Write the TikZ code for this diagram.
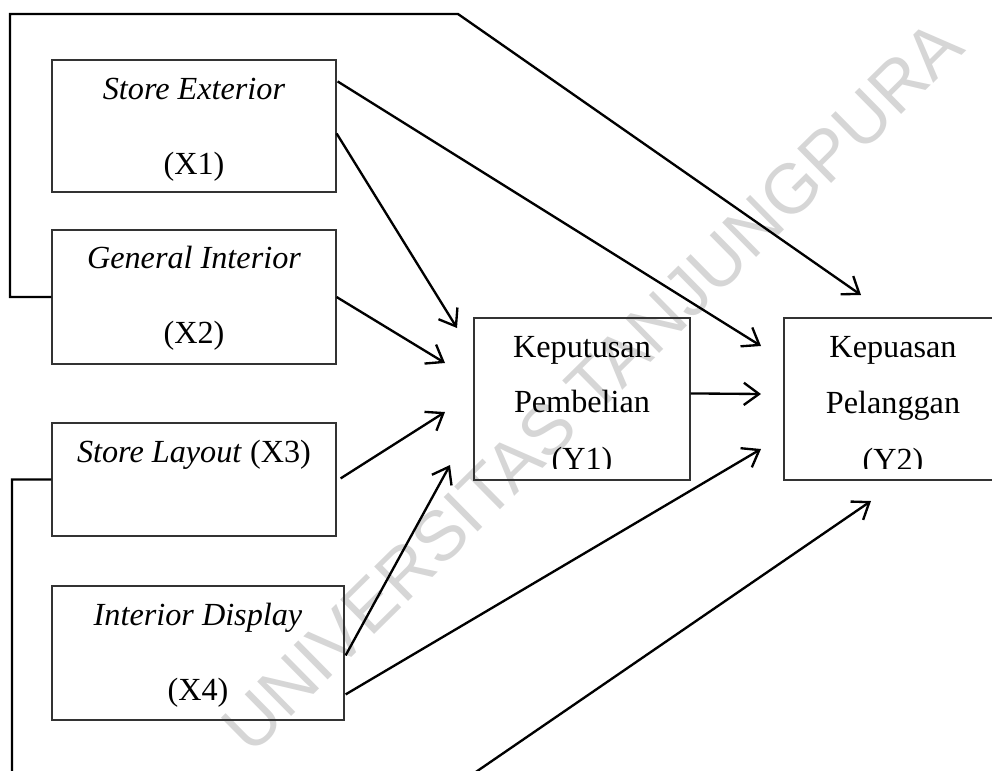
\documentclass[tikz,border=0pt]{standalone}
\usepackage{fontspec}
\setmainfont{Liberation Serif}
\newfontfamily\wmfont{Liberation Sans}
\usetikzlibrary{arrows.meta,fit,calc}
\begin{document}
\begin{tikzpicture}[x=0.03cm,y=-0.03cm,
  box/.style={draw=black!80, line width=1pt, inner sep=0pt},
  lbl/.style={font=\fontsize{27.5}{30}\selectfont, inner sep=0pt, anchor=base},
  arr/.style={line width=2pt, -{Straight Barb[length=13pt,width=19pt,line width=2pt]}},
  wm/.style={text=black!16, font=\wmfont\fontsize{60}{62}\selectfont, rotate=44.6, inner sep=0pt}]
\clip (0,0) rectangle (992,770);
\fill[white] (0,0) rectangle (992,770);
% watermark
\node[wm] (wm) at (592,386) {UNIVERSITAS TANJUNGPURA};
% boxes
\node[box, fit={(52,60)(336,192)}] (x1) {};
\node[box, fit={(52,230)(336,364)}] (x2) {};
\node[box, fit={(52,423)(336,536)}] (x3) {};
\node[box, fit={(52,586)(344,720)}] (x4) {};
\node[box, fit={(474,318)(690,480)}] (y1) {};
\node[box, fit={(784,318)(1002,480)}] (y2) {};
% labels
\node[lbl] (t1a) at (194,99) {\textit{Store Exterior}};
\node[lbl] (t1b) at (194,174) {(X1)};
\node[lbl] (t2a) at (194,268) {\textit{General Interior}};
\node[lbl] (t2b) at (194,343) {(X2)};
\node[lbl] (t3a) at (194,462) {\textit{Store Layout} (X3)};
\node[lbl] (t4a) at (198,625) {\textit{Interior Display}};
\node[lbl] (t4b) at (198,700) {(X4)};
\node[lbl] (t5a) at (582,357) {Keputusan};
\node[lbl] (t5b) at (582,412) {Pembelian};
\node[lbl] (t6a) at (893,357) {Kepuasan};
\node[lbl] (t6b) at (893,413) {Pelanggan};
\begin{scope}
  \clip (400,300) rectangle (992,468.5);
  \node[lbl] (t5c) at (582,469) {(Y1)};
  \node[lbl] (t6c) at (893,470) {(Y2)};
\end{scope}
% coordinates
\coordinate (tl) at (10,14);
\coordinate (tr) at (458,14);
\coordinate (ttop) at (861,295);
\coordinate (bl) at (12,800);
\coordinate (br) at (435,800);
\coordinate (tbot) at (871,501);
\coordinate (a1) at (761,346);
\coordinate (a4) at (761,449);
\coordinate (a5) at (761,394);
\coordinate (b1) at (457,328);
\coordinate (b2) at (445,363);
\coordinate (b3) at (445,412);
\coordinate (b4) at (450,465);
% connectors
\draw[arr] (x2.west) -| (tl) -- (tr) -- (ttop);
\draw[arr] (x3.west) -| (bl) -- (br) -- (tbot);
\draw[arr] ($(x1.north east)+(1,22)$) -- (a1);
\draw[arr] ($(x1.north east)+(0,74)$) -- (b1);
\draw[arr] (x2.east) -- (b2);
\draw[arr] ($(x3.north east)+(4,56)$) -- (b3);
\draw[arr] ($(x4.north east)+(1,70)$) -- (b4);
\draw[arr] ($(x4.north east)+(1,109)$) -- (a4);
\draw[arr] ($(y1.north east)+(0,76)$) -- (a5);
\end{tikzpicture}
\end{document}
